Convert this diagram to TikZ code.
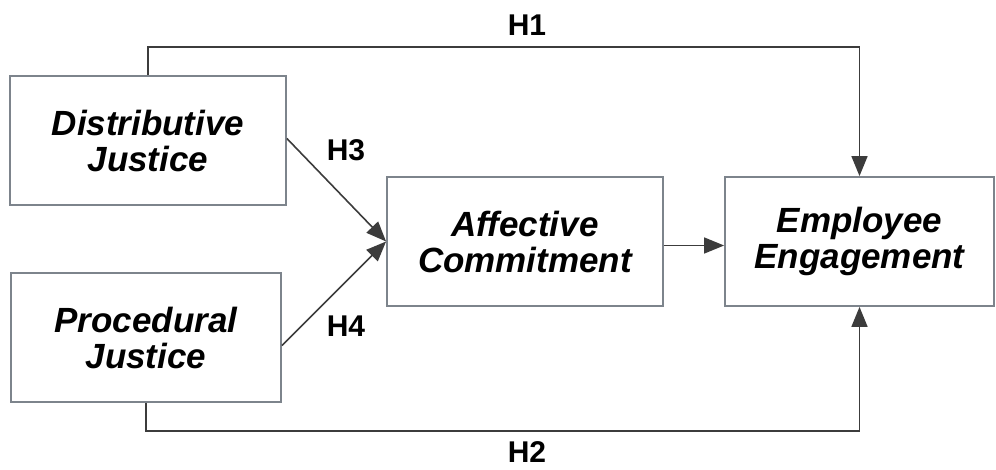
\documentclass[tikz,border=0pt]{standalone}
\usepackage{fontspec}
\setmainfont{Liberation Sans}
\usepackage{tikz}
\usetikzlibrary{positioning,calc,arrows.meta}

\definecolor{boxgray}{RGB}{125,132,140}
\definecolor{linegray}{RGB}{60,60,60}

\begin{document}
\begin{tikzpicture}[
    x=0.5pt, y=-0.5pt,
    box/.style={rectangle, draw=boxgray, line width=0.9pt, minimum width=138pt, minimum height=64.5pt, align=center, font=\fontsize{17.5}{18}\selectfont\bfseries\itshape},
    arrow/.style={-{Triangle[length=10pt,width=8pt]}, draw=linegray, line width=0.8pt},
    hlabel/.style={font=\fontsize{15}{15}\selectfont\bfseries}
]

% fixed frame matching the reference size
\useasboundingbox (0,0) rectangle (996,470);

% the four constructs
\node[box] (distr) at (148, 140.5) {Distributive\\Justice};
\node[box, minimum width=135pt] (proced) at (146, 337.5) {Procedural\\Justice};
\node[box] (affect) at (525, 241.5) {Affective\\Commitment};
\node[box, minimum width=134.5pt] (engage) at (859.5, 241.5) {Employee\\Engagement};

% direct paths H1 and H2
\draw[arrow] (distr.north) -- ++(0,-28) -| (engage.north);
\draw[arrow] (proced.south) -- ++(0,28) -| (engage.south);

% paths through the mediator
\draw[arrow] ([yshift=1pt]distr.east) -- (affect.west);
\draw[arrow] ([yshift=-4pt]proced.east) -- (affect.west);
\draw[arrow] ([yshift=-2pt]affect.east) -- ([yshift=-2pt]engage.west);

% hypothesis labels
\node[hlabel] (h1) at (527, 25) {H1};
\node[hlabel] (h2) at (527, 452) {H2};
\node[hlabel] (h3) at (346, 150) {H3};
\node[hlabel] (h4) at (346, 326) {H4};

\end{tikzpicture}
\end{document}
